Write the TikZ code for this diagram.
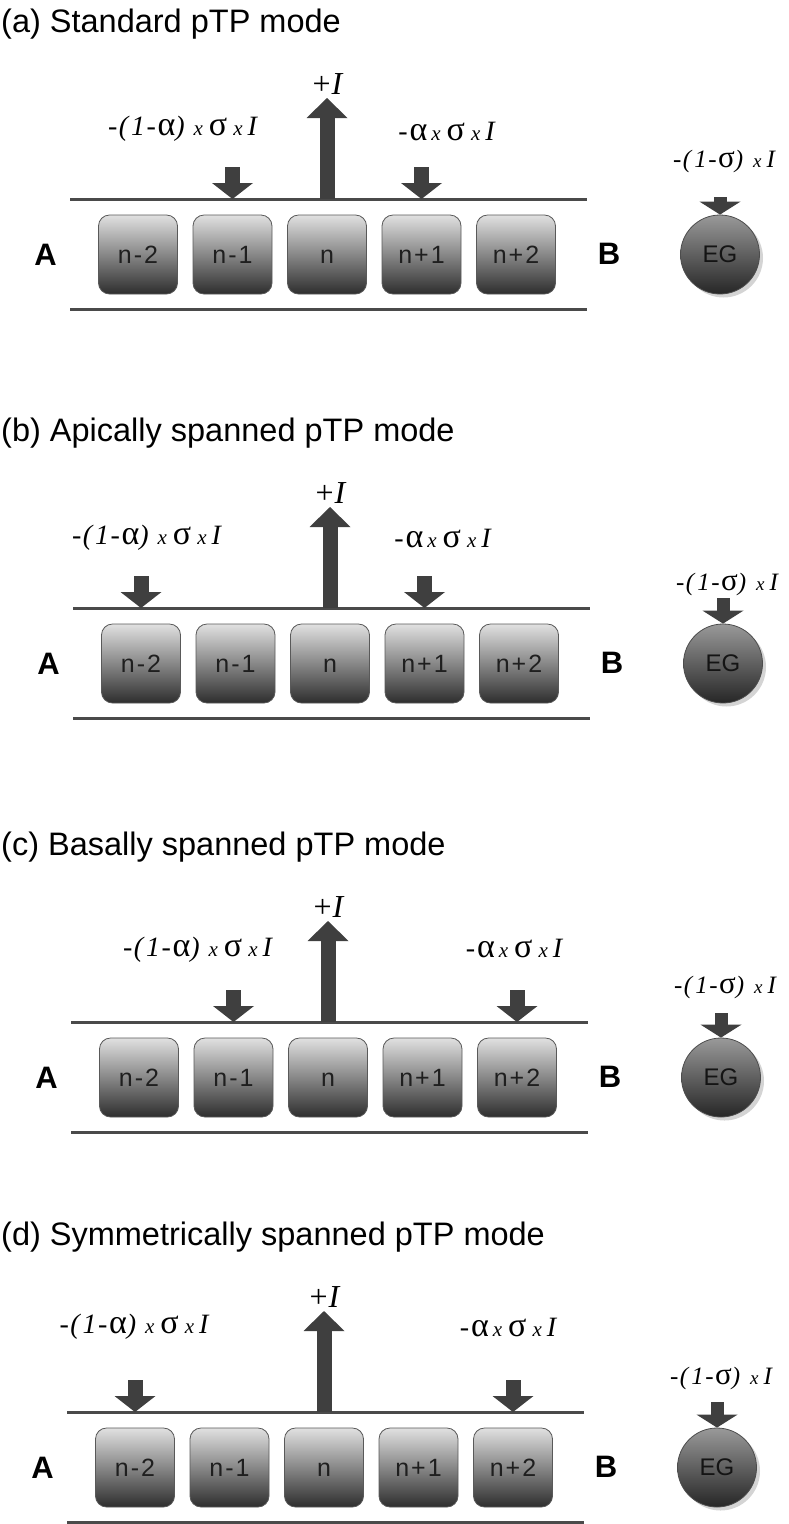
\documentclass[tikz,border=0pt]{standalone}
\usepackage{fontspec}
\setmainfont{Liberation Serif}
\setsansfont{Liberation Sans}
\newfontfamily\cellfont{Liberation Sans}[LetterSpace=8]
\newfontfamily\lblfont{Liberation Serif}
\usetikzlibrary{arrows.meta,calc}
\definecolor{ink}{HTML}{3F3F3F}
\definecolor{railc}{HTML}{4A4A4A}

\newcommand\xs{{\fontsize{21}{21}\selectfont\itshape x}}
\newcommand\xe{{\fontsize{19}{19}\selectfont\itshape x}}
\newcommand\gk[1]{{\fontsize{34}{34}\selectfont #1}}
\newcommand\gke[1]{{\fontsize{31}{31}\selectfont #1}}
\newcommand\lblL{{\itshape -\kern1.5pt(\kern3pt 1\kern1.5pt-}\kern1.5pt\gk{α}\kern0pt{\itshape )}\kern9pt\xs\kern6pt\gk{σ}\kern6pt\xs\kern5pt{\itshape I}}
\newcommand\lblR{{\itshape -}\kern2pt\gk{α}\kern4pt\xs\kern6pt\gk{σ}\kern6pt\xs\kern5pt{\itshape I}}
\newcommand\lblE{{\itshape -\kern1.5pt(\kern3pt 1\kern1.5pt-}\kern1.5pt\gke{σ}\kern0pt{\itshape )}\kern10pt\xe\kern5pt{\itshape I}}

\tikzset{
  rail/.style={draw=railc, line width=3pt},
  cell/.style={rectangle, rounded corners=11pt, minimum width=79pt, minimum height=79pt,
    inner sep=0pt, draw=black!65, line width=0.8pt, top color=black!12, bottom color=black!82,
    font=\cellfont\fontsize{25}{25}\selectfont, text=black!88, text height=18pt, text depth=0pt},
  sidel/.style={font=\sffamily\bfseries\fontsize{31}{31}\selectfont, inner sep=0pt},
  egc/.style={circle, minimum size=79pt, inner sep=0pt, draw=black!70, line width=0.8pt,
    top color=black!40, bottom color=black!85, font=\sffamily\fontsize{24}{24}\selectfont, text=black!92},
  ttl/.style={font=\sffamily\fontsize{32.5}{32.5}\selectfont, inner sep=0pt},
  plab/.style={font=\lblfont\fontsize{32}{32}\selectfont, inner sep=0pt},
  mlab/.style={font=\lblfont\fontsize{28}{28}\selectfont, inner sep=0pt},
  flab/.style={font=\lblfont\fontsize{25}{25}\selectfont, inner sep=0pt},
  dnarr/.style={color=ink, line width=15pt, -{Triangle[length=16pt,width=41pt,line width=0pt]}},
  uparr/.style={color=ink, line width=15pt, -{Triangle[length=20pt,width=41pt,line width=0pt]}},
  egarr/.style={color=ink, line width=13pt, -{Triangle[length=13pt,width=41pt,line width=0pt]}},
}

% #1 prefix, #2 x0, #3 y0, #4 title, #5 EG arrow top, #6 EG label y
\newcommand\drawpanel[6]{%
\begin{scope}[shift={(#2,#3)}]
  \node[ttl, anchor=base west] (#1title) at ({1-#2},-167) {#4};
  \draw[rail] (0,0) coordinate (#1tl) -- (517,0) coordinate (#1tr);
  \draw[rail] (0,110.5) coordinate (#1ul) -- (517,110.5) coordinate (#1ur);
  \node[cell] (#1b0) at (68,55.5) {n-2};
  \node[cell] (#1b1) at (162.5,55.5) {n-1};
  \node[cell] (#1b2) at (257,55.5) {n};
  \node[cell] (#1b3) at (351.5,55.5) {n+1};
  \node[cell] (#1b4) at (446,55.5) {n+2};
  \node[sidel] (#1A) at (-24.5,56) {A};
  \node[sidel] (#1B) at (539,55) {B};
  \fill[black!17] (653.5,59) circle[radius=39.5pt];
  \node[egc] (#1eg) at (650,55.5) {EG};
  \coordinate (#1u0) at (257,0);
  \coordinate (#1u1) at (257,-101);
  \draw[uparr] (#1u0) -- (#1u1);
  \node[plab] (#1pI) at (258,-115) {+\kern1pt\textit{I}};
  \coordinate (#1e0) at (650,#5);
  \draw[egarr] (#1e0) -- (#1eg.north);
  \node[flab] (#1el) at (654,#6) {\lblE};
\end{scope}}

\newcommand\dar[2]{%
  \path (#1b#2 |- #1tl) coordinate (#1dt#2) ++(0,-32) coordinate (#1ds#2);
  \draw[dnarr] (#1ds#2) -- (#1dt#2);}

\begin{document}
\begin{tikzpicture}[x=1pt,y=-1pt]
\useasboundingbox (0,0) rectangle (789,1524);

% (a)
\drawpanel{a}{70}{199}{(a) Standard pTP mode}{-2}{-38}
\dar{a}{1}\dar{a}{3}
\begin{scope}[shift={(70,199)}]
  \node[mlab] (aLl) at (112.5,-70.5) {\lblL};
  \node[mlab] (aLr) at (376.5,-67.5) {\lblR};
\end{scope}

% (b)
\drawpanel{b}{73}{608}{(b) Apically spanned pTP mode}{-10}{-24}
\dar{b}{0}\dar{b}{3}
\begin{scope}[shift={(73,608)}]
  \node[mlab] (bLl) at (73.5,-70) {\lblL};
  \node[mlab] (bLr) at (369.5,-70) {\lblR};
\end{scope}

% (c)
\drawpanel{c}{71}{1022}{(c) Basally spanned pTP mode}{-9}{-35}
\dar{c}{1}\dar{c}{4}
\begin{scope}[shift={(71,1022)}]
  \node[mlab] (cLl) at (126.5,-72) {\lblL};
  \node[mlab] (cLr) at (443,-74) {\lblR};
\end{scope}

% (d)
\drawpanel{d}{67}{1412}{(d) Symmetrically spanned pTP mode}{-10}{-34}
\dar{d}{0}\dar{d}{4}
\begin{scope}[shift={(67,1412)}]
  \node[mlab] (dLl) at (67,-85) {\lblL};
  \node[mlab] (dLr) at (441,-85) {\lblR};
\end{scope}
\end{tikzpicture}
\end{document}
